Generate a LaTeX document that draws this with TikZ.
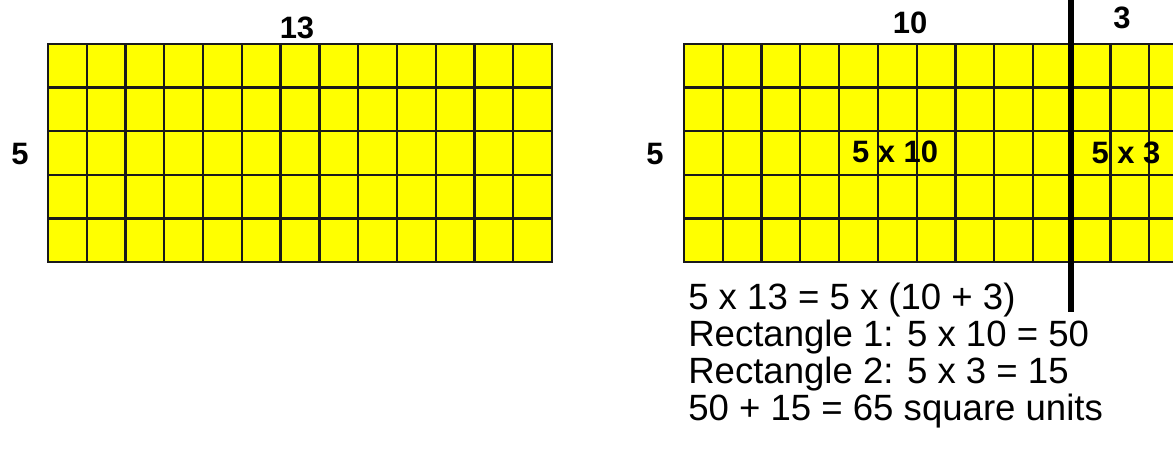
\documentclass[tikz,border=0pt]{standalone}
\usepackage{fontspec}
\setmainfont{Liberation Sans}
\usetikzlibrary{positioning,calc}
\definecolor{AmarilloCelda}{RGB}{255,255,0}
\definecolor{LineaCelda}{RGB}{26,26,26}

\begin{document}
\begin{tikzpicture}[x=0.025cm,y=-0.025cm,
  rejilla/.style={draw=LineaCelda,line width=1.6pt},
  medida/.style={font=\bfseries\fontsize{22}{26}\selectfont,inner sep=0pt},
  cuenta/.style={font=\fontsize{26}{30}\selectfont,inner sep=0pt,anchor=base west}]
  \useasboundingbox (0,0) rectangle (1173,449);
  \clip (0,0) rectangle (1173,449);

  % Rectangulo 5 x 13
  \coordinate (RA) at (48,44);
  \fill[AmarilloCelda] (RA) rectangle ++(504,218);
  \foreach \i in {0,...,13} \draw[rejilla] ($(RA)+(\i*38.77,0)$) -- ++(0,218);
  \foreach \j in {0,...,5} \draw[rejilla] ($(RA)+(0,\j*43.6)$) -- ++(504,0);
  \draw[rejilla] (RA) rectangle ++(504,218);
  \node[medida] (largoA) at (297,28) {13};
  \node[medida] (altoA) at (20,154) {5};

  % Rectangulo partido 5 x (10 + 3)
  \coordinate (RB) at (684,44);
  \fill[AmarilloCelda] (RB) rectangle ++(504,218);
  \foreach \i in {0,...,13} \draw[rejilla] ($(RB)+(\i*38.77,0)$) -- ++(0,218);
  \foreach \j in {0,...,5} \draw[rejilla] ($(RB)+(0,\j*43.6)$) -- ++(504,0);
  \draw[rejilla] (RB) rectangle ++(504,218);
  \coordinate (corteArriba) at (1071,-5);
  \coordinate (corteAbajo) at (1071,312);
  \draw[line width=4pt] (corteArriba) -- (corteAbajo);
  \node[medida] (largoB) at (910,23) {10};
  \node[medida] (largoC) at (1122,18) {3};
  \node[medida] (altoB) at (655,154) {5};
  \node[medida] (areaB) at (895,152) {5 x 10};
  \node[medida] (areaC) at (1126,153) {5 x 3};

  % Cuentas
  \node[cuenta] (ec1) at (688,309) {5 x 13 = 5 x (10 + 3)};
  \node[cuenta] (ec2) at (688,346) {Rectangle 1: 5 x 10 = 50};
  \node[cuenta] (ec3) at (688,383) {Rectangle 2: 5 x 3 = 15};
  \node[cuenta] (ec4) at (688,420) {50 + 15 = 65 square units};
\end{tikzpicture}
\end{document}
